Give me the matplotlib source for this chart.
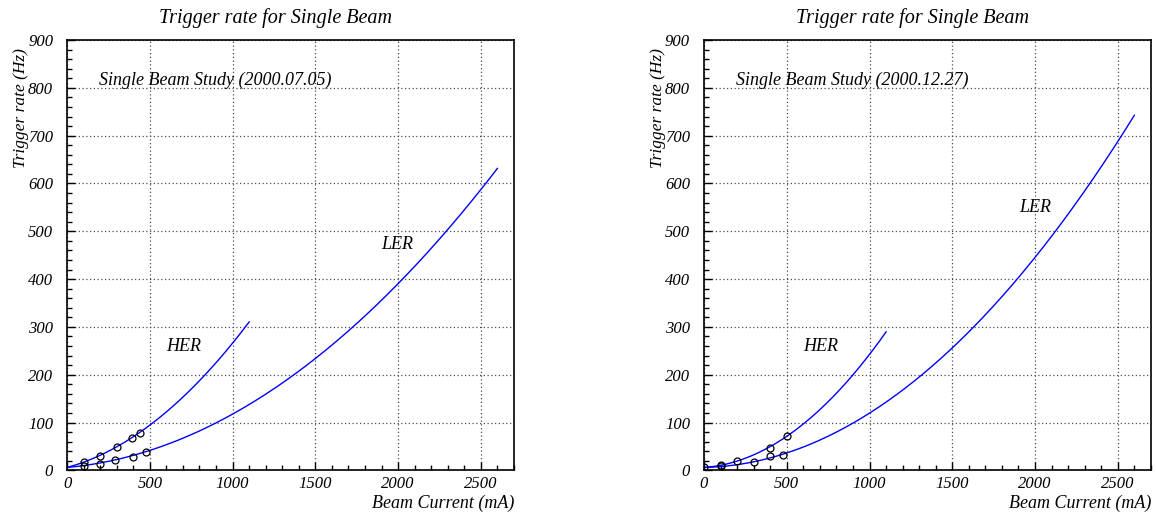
import numpy as np
import matplotlib
matplotlib.use("Agg")
import matplotlib.pyplot as plt
from matplotlib.ticker import MultipleLocator

plt.rcParams['font.family'] = ['Liberation Serif', 'DejaVu Serif']
plt.rcParams['font.style'] = 'italic'

# measured points, July run
jul_her_x = [100, 200, 300, 395, 440]
jul_her_y = [17, 30, 48, 67, 79]
jul_ler_x = [100, 200, 290, 400, 480]
jul_ler_y = [9, 13, 21, 28, 38]

# measured points, December run
dec_her_x = [100, 200, 400, 500]
dec_her_y = [11, 19, 47, 71]
dec_ler_x = [0, 100, 300, 400, 480]
dec_ler_y = [7, 9, 17, 30, 33]

# pol2 fit parameters (p0, p1, p2) and fit range end (mA)
jul_her_fit = [6.0, 0.094, 1.66e-4]
jul_ler_fit = [6.0, 0.031, 8.06e-5]
dec_her_fit = [6.0, 0.0241, 2.124e-4]
dec_ler_fit = [6.0, 0.0076, 1.0605e-4]
her_end = 1100
ler_end = 2600

runs = [
    ("Single Beam Study (2000.07.05)", jul_her_x, jul_her_y, jul_ler_x, jul_ler_y,
     jul_her_fit, jul_ler_fit, (600, 258), (1900, 472)),
    ("Single Beam Study (2000.12.27)", dec_her_x, dec_her_y, dec_ler_x, dec_ler_y,
     dec_her_fit, dec_ler_fit, (600, 258), (1907, 549)),
]

fig = plt.figure(figsize=(11.56, 5.12), dpi=100)
lefts = [0.0580, 0.6090]

for left, run in zip(lefts, runs):
    (study, hx, hy, lx, ly, hfit, lfit, her_pos, ler_pos) = run
    ax = fig.add_axes([left, 0.0814, 0.3866, 0.8404])

    xh = np.linspace(0, her_end, 300)
    xl = np.linspace(0, ler_end, 300)
    ax.plot(xh, hfit[0] + hfit[1] * xh + hfit[2] * xh**2, color='#0000ff', lw=1.0)
    ax.plot(xl, lfit[0] + lfit[1] * xl + lfit[2] * xl**2, color='#0000ff', lw=1.0)
    ax.plot(hx, hy, 'o', mfc='none', mec='black', ms=5, mew=0.9)
    ax.plot(lx, ly, 'o', mfc='none', mec='black', ms=5, mew=0.9)

    ax.set_xlim(0, 2700)
    ax.set_ylim(0, 900)
    ax.xaxis.set_major_locator(MultipleLocator(500))
    ax.xaxis.set_minor_locator(MultipleLocator(100))
    ax.yaxis.set_major_locator(MultipleLocator(100))
    ax.yaxis.set_minor_locator(MultipleLocator(20))
    ax.tick_params(which='both', direction='in', top=False, right=False,
                   labelsize=12, width=1.0)
    ax.tick_params(which='major', length=6)
    ax.tick_params(which='minor', length=3.5)
    ax.tick_params(axis='y', pad=10)
    ax.tick_params(axis='x', pad=4)
    for lab in ax.get_xticklabels() + ax.get_yticklabels():
        lab.set_fontstyle('italic')
    ax.grid(True, which='major', color='0.3', linestyle=(0, (1, 2)), lw=0.9)
    for sp in ax.spines.values():
        sp.set_linewidth(1.2)

    ax.text(0.466, 1.051, "Trigger rate for Single Beam", transform=ax.transAxes,
            ha='center', va='center', fontsize=14.5)
    ax.text(-0.103, 0.981, "Trigger rate (Hz)", transform=ax.transAxes,
            rotation=90, ha='center', va='top', fontsize=12.5)
    ax.text(1.0, -0.077, "Beam Current (mA)", transform=ax.transAxes,
            ha='right', va='center', fontsize=13)
    ax.text(195, 816, study, ha='left', va='center', fontsize=13)
    ax.text(her_pos[0], her_pos[1], "HER", ha='left', va='center', fontsize=13)
    ax.text(ler_pos[0], ler_pos[1], "LER", ha='left', va='center', fontsize=13)

fig.savefig("out.png", dpi=100)
